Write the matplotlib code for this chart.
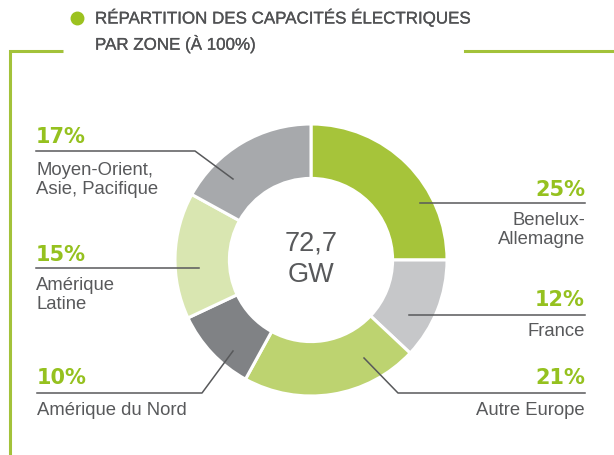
import matplotlib
matplotlib.use("Agg")
import matplotlib.pyplot as plt
import matplotlib.patheffects as pe

# data
zones = ["Benelux-\nAllemagne", "France", "Autre Europe", "Amérique du Nord",
         "Amérique\nLatine", "Moyen-Orient,\nAsie, Pacifique"]
parts = [25, 12, 21, 10, 15, 17]
colors = ["#a6c43a", "#c6c7c9", "#bdd370", "#808285", "#d9e6b1", "#a7a9ac"]
total_txt = "72,7\nGW"
title = "RÉPARTITION DES CAPACITÉS ÉLECTRIQUES\nPAR ZONE (À 100%)"

green = "#95c11f"
frame_green = "#a3c23a"
grey_txt = "#58595b"

W, H = 614, 456
plt.rcParams['font.family'] = ['Liberation Sans', 'DejaVu Sans']
fig = plt.figure(figsize=(W / 100, H / 100), dpi=100)
ax = fig.add_axes([0, 0, 1, 1])

def Y(y):
    return H - y

cx, cy, R = 311, 261, 136
ax.pie(parts, colors=colors, startangle=90, counterclock=False,
       center=(cx, Y(cy)), radius=R,
       wedgeprops=dict(width=R * 0.4, edgecolor="white", linewidth=2.2))
ax.text(cx, Y(cy - 2), total_txt, ha="center", va="center", fontsize=19.5,
        color=grey_txt, linespacing=1.3)

# frame + title
ax.plot([10, 10, 63], [Y(456), Y(52), Y(52)], color=frame_green, lw=2.2,
        solid_capstyle="butt", solid_joinstyle="miter")
ax.plot([465, 614], [Y(52), Y(52)], color=frame_green, lw=2.2)
ax.plot([77], [Y(19)], "o", ms=9, color="#9cc21f")
ax.text(95, Y(10), title, ha="left", va="top", fontsize=12.2, color="#505153",
        linespacing=1.6,
        path_effects=[pe.withStroke(linewidth=0.2, foreground="#505153")])

# leader lines and labels: (pct y, line pts, text y, side)
labels = [
    (0, 190, [(585, 204), (420, 204)], 221, "r"),
    (1, 300, [(585, 316), (409, 316)], 332, "r"),
    (2, 378, [(585, 394), (398, 394), (364, 359)], 411, "r"),
    (3, 378, [(37, 394), (202, 394), (233, 352)], 411, "l"),
    (4, 255, [(36, 269), (199, 269)], 286, "l"),
    (5, 137, [(36, 152), (195, 152), (233, 180)], 171, "l"),
]
for i, py, pts, ty, side in labels:
    xs = [p[0] for p in pts]
    ys = [Y(p[1]) for p in pts]
    ax.plot(xs, ys, color="#58595b", lw=1.1)
    x0 = pts[0][0]
    ha = "right" if side == "r" else "left"
    ax.text(x0, Y(py), "%d%%" % parts[i], ha=ha, va="center", fontsize=15,
            fontweight="bold", color=green, family="DejaVu Sans")
    ax.text(x0, Y(ty - 9), zones[i], ha=ha, va="top", fontsize=13.3,
            color=grey_txt, linespacing=1.15)

ax.set_xlim(0, W)
ax.set_ylim(0, H)
ax.set_aspect("auto")
ax.axis("off")
fig.savefig("out.png", dpi=100, facecolor="white")
